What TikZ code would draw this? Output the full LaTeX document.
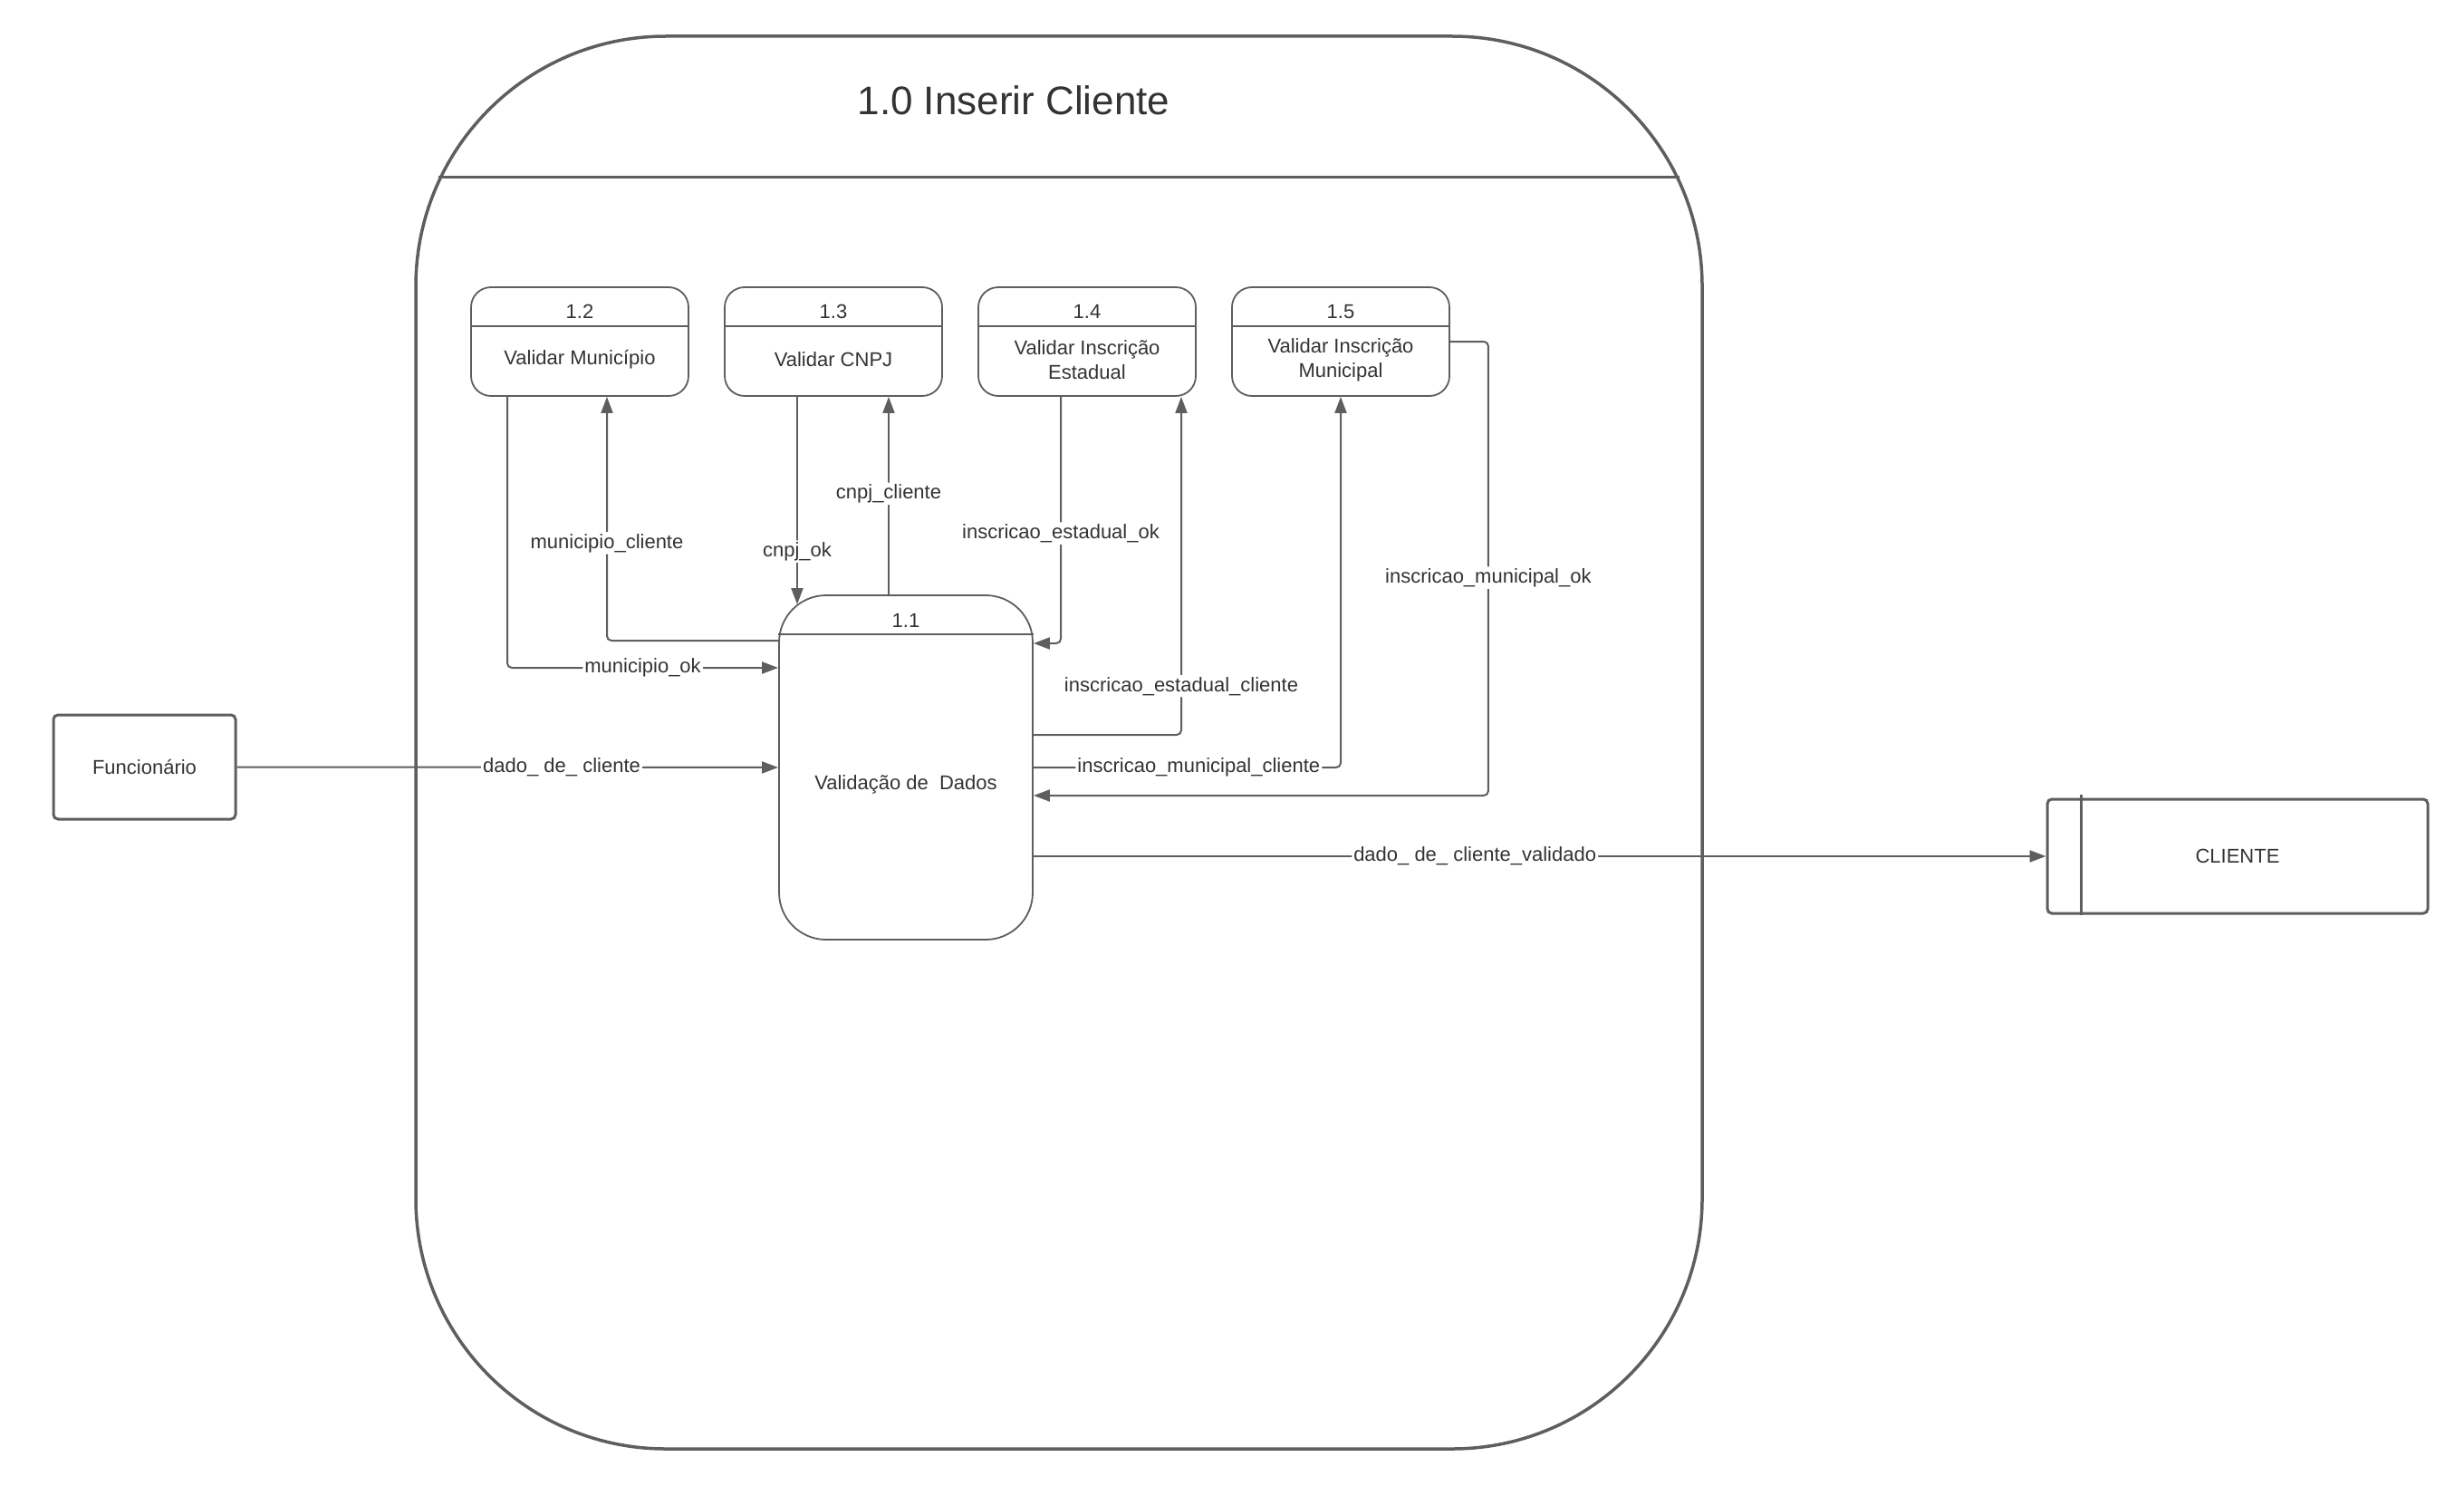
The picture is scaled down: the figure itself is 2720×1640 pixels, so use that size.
\documentclass[tikz,border=0pt]{standalone}
\usepackage{fontspec}
\setmainfont{Liberation Sans}
\usetikzlibrary{arrows.meta}
\definecolor{linegray}{HTML}{5E5E5E}
\definecolor{textgray}{HTML}{333333}
\tikzstyle{context} = [rectangle, draw=linegray, line width=3.5pt, rounded corners=276pt, inner sep=0]
\tikzstyle{ctxline} = [linegray, line width=3pt]
\tikzstyle{subbox} = [rectangle, draw=linegray, line width=1.8pt, rounded corners=22pt, minimum width=240pt, minimum height=120pt, inner sep=0]
\tikzstyle{mainproc} = [rectangle, draw=linegray, line width=1.8pt, rounded corners=52pt, minimum width=280pt, minimum height=380pt, inner sep=0]
\tikzstyle{divider} = [linegray, line width=1.8pt]
\tikzstyle{txt} = [text=textgray, font=\fontsize{22}{27}\selectfont, align=center, inner sep=0]
\tikzstyle{title} = [text=textgray, font=\fontsize{44}{52}\selectfont]
\tikzstyle{entity} = [rectangle, draw=linegray, line width=3pt, rounded corners=5pt, inner sep=0, text=textgray, font=\fontsize{22}{27}\selectfont]
\tikzstyle{lbl} = [text=textgray, font=\fontsize{22}{27}\selectfont, fill=white, inner sep=2pt]
\tikzstyle{flow} = [draw=linegray, line width=2pt, rounded corners=5pt, -{Triangle[length=18pt,width=13pt]}]

\begin{document}
\begin{tikzpicture}[x=1pt,y=-1pt]
\useasboundingbox (0,0) rectangle (2720,1640);

% context process
\node[context, minimum width=1420pt, minimum height=1559pt] (ctx) at (1169,819.5) {};
\draw[ctxline] ([xshift=27pt,yshift=-157pt]ctx.north west) -- ([xshift=-27pt,yshift=-157pt]ctx.north east);
\node[title] (ttl) at (1119,111) {1.0 Inserir Cliente};

% sub processes
\foreach \n/\x/\num/\txt in {p12/640/1.2/{Validar Município}, p13/920/1.3/{Validar CNPJ}, p14/1200/1.4/{Validar Inscrição\\Estadual}, p15/1480/1.5/{Validar Inscrição\\Municipal}}{
	\node[subbox] (\n) at (\x,377) {};
	\draw[divider] ([yshift=-44pt]\n.north west) -- ([yshift=-44pt]\n.north east);
	\node[txt] (\n-num) at ([yshift=33pt]\n.center) {\num};
	\node[txt] (\n-txt) at ([yshift=-20pt]\n.center) {\txt};
}

\node[mainproc] (p11) at (1000,847) {};
\draw[divider] ([yshift=-44pt]p11.north west) -- ([yshift=-44pt]p11.north east);
\node[txt] (p11-num) at ([yshift=162pt]p11.center) {1.1};
\node[txt] (p11-txt) at ([yshift=-19pt]p11.center) {Validação de~~Dados};

% external entities
\node[entity, minimum width=201pt, minimum height=115pt] (func) at (159.5,846.5) {Funcionário};
\node[entity, minimum width=420pt, minimum height=126pt] (cli) at (2470,945) {CLIENTE};
\draw[linegray, line width=3pt] ([xshift=39pt,yshift=4pt]cli.north west) -- ([xshift=39pt]cli.south west);

% flows
\draw[flow] ([xshift=-80pt]p12.south) |- node[lbl,pos=0.75]{municipio\_ok} ([yshift=110pt]p11.west);
\draw[flow] ([yshift=140pt]p11.west) -| node[lbl,pos=0.70]{municipio\_cliente} ([xshift=30pt]p12.south);
\draw[flow] ([xshift=-40pt]p13.south) -- node[lbl,pos=0.745]{cnpj\_ok} ([xshift=-120pt,yshift=-11pt]p11.north);
\draw[flow] ([xshift=-19pt]p11.north) -- node[lbl,pos=0.51]{cnpj\_cliente} ([xshift=61pt]p13.south);
\draw[flow] ([xshift=-29pt]p14.south) |- node[lbl,pos=0.277]{inscricao\_estadual\_ok} ([yshift=137pt]p11.east);
\draw[flow] ([yshift=36pt]p11.east) -| node[lbl,pos=0.572]{inscricao\_estadual\_cliente} ([xshift=104pt]p14.south);
\draw[flow] (p11.east) -| node[lbl,pos=0.269]{inscricao\_municipal\_cliente} (p15.south);
\draw[flow] (p15.east) -- ++(42,0) |- node[lbl,pos=0.26]{inscricao\_municipal\_ok} ([yshift=-31pt]p11.east);
\draw[flow] (func.east) -- node[lbl,pos=0.6]{dado\_ de\_ cliente} (p11.west);
\draw[flow] (p11.east |- cli.west) -- node[lbl,pos=0.436]{dado\_ de\_ cliente\_validado} (cli.west);

\end{tikzpicture}
\end{document}
